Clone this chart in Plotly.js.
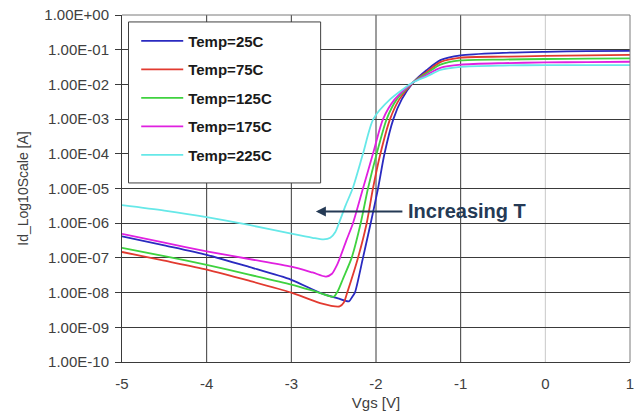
<!DOCTYPE html>
<html>
<head>
<meta charset="utf-8">
<script src="https://cdn.plot.ly/plotly-3.0.1.min.js"></script>
<style>html,body{margin:0;padding:0;background:#fff;}#chart{width:644px;height:418px;}</style>
</head>
<body>
<div id="chart"></div>
<script>
// ---- data ----
const seriesNames = ["Temp=25C", "Temp=75C", "Temp=125C", "Temp=175C", "Temp=225C"];

const vgs25 = [-5, -4.5, -4, -3.5, -3, -2.66, -2.45, -2.32, -2.28, -2.249, -2.154, -2.063, -1.976, -1.90, -1.795, -1.696, -1.56, -1.40, -1.24, -1.0, -0.5, 0, 0.5, 1];
const id25  = [4.2e-7, 2.3e-7, 1.23e-7, 5.5e-8, 2.34e-8, 9.8e-9, 6.8e-9, 5.6e-9, 7.6e-9, 1.0e-8, 1.0e-7, 1.0e-6, 1.0e-5, 1.0e-4, 1.0e-3, 3.7e-3, 1.15e-2, 2.6e-2, 5.0e-2, 6.9e-2, 8.1e-2, 8.7e-2, 9.1e-2, 9.3e-2];

const vgs75 = [-5, -4.5, -4, -3.5, -3, -2.66, -2.43, -2.38, -2.34, -2.213, -2.11, -2.036, -1.948, -1.834, -1.725, -1.56, -1.40, -1.24, -1.0, -0.5, 0, 0.5, 1];
const id75  = [1.48e-7, 8.3e-8, 4.6e-8, 2.2e-8, 1.0e-8, 5.0e-9, 4.0e-9, 5.2e-9, 1.0e-8, 1.0e-7, 1.0e-6, 1.0e-5, 1.0e-4, 1.0e-3, 3.7e-3, 1.15e-2, 2.3e-2, 4.4e-2, 5.9e-2, 6.3e-2, 6.6e-2, 6.9e-2, 7.1e-2];

const vgs125 = [-5, -4.5, -4, -3.5, -3, -2.7, -2.50, -2.45, -2.39, -2.288, -2.181, -2.095, -1.992, -1.874, -1.755, -1.56, -1.40, -1.24, -1.0, -0.5, 0, 0.5, 1];
const id125  = [1.95e-7, 1.12e-7, 6.3e-8, 3.3e-8, 1.7e-8, 1.05e-8, 7.6e-9, 1.12e-8, 2.5e-8, 1.0e-7, 1.0e-6, 1.0e-5, 1.0e-4, 1.0e-3, 3.7e-3, 1.15e-2, 2.1e-2, 3.7e-2, 4.9e-2, 5.2e-2, 5.4e-2, 5.5e-2, 5.6e-2];

const vgs175 = [-5, -4.5, -4, -3.5, -3, -2.75, -2.59, -2.52, -2.46, -2.426, -2.35, -2.272, -2.154, -2.036, -1.917, -1.78, -1.56, -1.40, -1.24, -1.0, -0.5, 0, 0.5, 1];
const id175  = [4.9e-7, 2.75e-7, 1.55e-7, 9.3e-8, 5.6e-8, 3.8e-8, 2.9e-8, 3.5e-8, 6.3e-8, 1.0e-7, 3.2e-7, 1.0e-6, 1.0e-5, 1.0e-4, 1.0e-3, 3.7e-3, 1.15e-2, 1.9e-2, 3.0e-2, 3.7e-2, 4.1e-2, 4.3e-2, 4.4e-2, 4.5e-2];

const vgs225 = [-5, -4.5, -4, -3.5, -3, -2.75, -2.62, -2.54, -2.48, -2.43, -2.36, -2.276, -2.154, -2.032, -1.834, -1.56, -1.40, -1.24, -1.0, -0.5, 0, 0.5, 1];
const id225  = [3.3e-6, 2.3e-6, 1.5e-6, 8.9e-7, 5.0e-7, 3.8e-7, 3.4e-7, 3.8e-7, 5.6e-7, 1.12e-6, 3.2e-6, 1.0e-5, 1.0e-4, 1.0e-3, 3.7e-3, 1.15e-2, 1.7e-2, 2.6e-2, 3.2e-2, 3.5e-2, 3.6e-2, 3.6e-2, 3.6e-2];

const yTickVals = [1e-10, 1e-9, 1e-8, 1e-7, 1e-6, 1e-5, 1e-4, 1e-3, 1e-2, 1e-1, 1e0];
const yTickText = ["1.00E-10", "1.00E-09", "1.00E-08", "1.00E-07", "1.00E-06", "1.00E-05", "1.00E-04", "1.00E-03", "1.00E-02", "1.00E-01", "1.00E+00"];
const xTickVals = [-5, -4, -3, -2, -1, 0, 1];
const xTickText = ["-5", "-4", "-3", "-2", "-1", "0", "1"];

// ---- styling ----
const colors = ["#2a2ac0", "#e23a30", "#3fd23f", "#e020e0", "#66e8e8"];
const xs = [vgs25, vgs75, vgs125, vgs175, vgs225];
const ys = [id25, id75, id125, id175, id225];
const FONT = "Liberation Sans, Arial, sans-serif";

const traces = seriesNames.map((n, i) => ({
  type: "scatter", mode: "lines", name: n,
  x: xs[i], y: ys[i],
  legendgroup: "g" + i,
  line: {color: colors[i], width: 1.8, shape: "spline", smoothing: 0.7}
}));

const shapes = [];
[-4, -3, -2, -1, 0].forEach(v => {
  shapes.push({type: "line", layer: "below", xref: "x", yref: "paper", x0: v, x1: v, y0: 0, y1: 1,
    line: {color: v === 0 ? "#c8c8c8" : "#3a3a3a", width: 1}});
});
shapes.push({type: "line", layer: "above", xref: "paper", yref: "paper", x0: 0, x1: 1, y0: 1, y1: 1, line: {color: "#7a7a7a", width: 1}});
shapes.push({type: "line", layer: "above", xref: "paper", yref: "paper", x0: 1, x1: 1, y0: 0, y1: 1, line: {color: "#7a7a7a", width: 1}});
shapes.push({type: "rect", layer: "above", xref: "paper", yref: "paper", x0: 0.0128, x1: 0.391, y0: 0.516, y1: 0.980,
  fillcolor: "#ffffff", line: {color: "#404040", width: 1}});

const layout = {
  width: 644, height: 418,
  margin: {l: 122, r: 14, t: 15, b: 56},
  paper_bgcolor: "#ffffff", plot_bgcolor: "#ffffff",
  font: {family: FONT, color: "#404040", size: 15},
  showlegend: true,
  legend: {
    x: 0.028, y: 0.972, xanchor: "left", yanchor: "top",
    bgcolor: "rgba(0,0,0,0)", borderwidth: 0,
    font: {family: FONT, size: 15, color: "#1a1a1a", weight: "bold"},
    traceorder: "grouped", tracegroupgap: 6, itemwidth: 42
  },
  xaxis: {
    range: [-5, 1], tickvals: xTickVals, ticktext: xTickText,
    showgrid: false, zeroline: false,
    showline: true, linecolor: "#3a3a3a", linewidth: 1,
    ticks: "", ticklabelstandoff: 8, tickfont: {size: 15, color: "#404040"},
    title: {text: "Vgs [V]", font: {size: 15, color: "#404040"}, standoff: 6}
  },
  yaxis: {
    type: "log", range: [-10, 0], tickvals: yTickVals, ticktext: yTickText,
    showgrid: true, gridcolor: "#3a3a3a", gridwidth: 1, zeroline: false,
    showline: true, linecolor: "#3a3a3a", linewidth: 1,
    ticks: "outside", ticklen: 6, tickcolor: "#3a3a3a", ticklabelstandoff: 3,
    tickfont: {size: 15, color: "#404040"},
    title: {text: "Id_Log10Scale [A]", font: {size: 14, color: "#404040"}, standoff: 12}
  },
  shapes: shapes,
  annotations: [{
    xref: "x", yref: "y", x: -2.71, y: -5.66,
    ax: 151, ay: 0, axref: "pixel", ayref: "pixel",
    text: "<b>Increasing T</b>", showarrow: true,
    arrowhead: 2, arrowsize: 1, arrowwidth: 2, arrowcolor: "#253a55",
    borderpad: 5,
    font: {family: FONT, size: 20, color: "#253a55"}
  }]
};

Plotly.newPlot("chart", traces, layout, {displayModeBar: false, staticPlot: true});
</script>
</body>
</html>
